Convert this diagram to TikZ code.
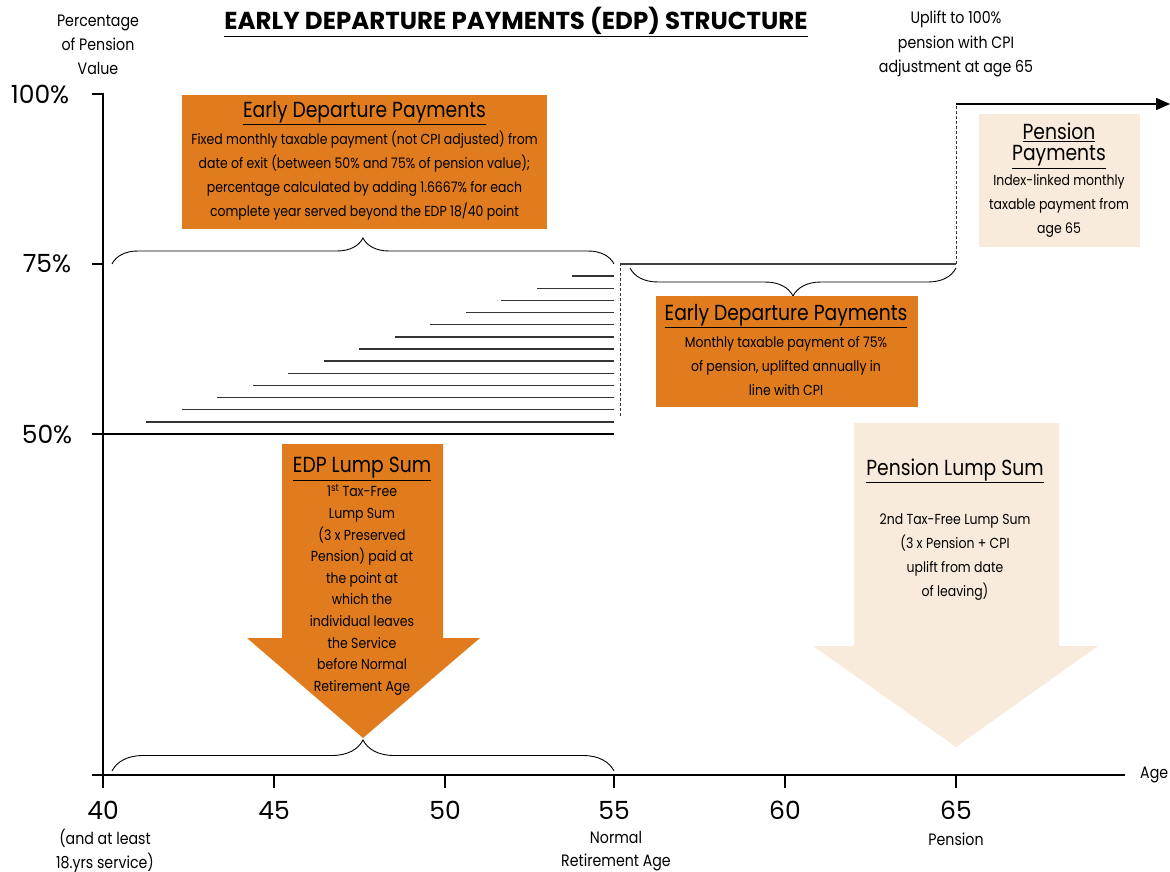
\documentclass[tikz,border=0pt]{standalone}
\usepackage{fontspec}
\setmainfont{Poppins}[FakeStretch=0.86]
\newfontfamily\widefont{Poppins}
\usetikzlibrary{arrows.meta,decorations.pathreplacing,positioning}

\definecolor{edporange}{HTML}{E07C1E}
\definecolor{pensionbeige}{HTML}{F8EBDB}

\begin{document}
\begin{tikzpicture}[%
        x = 1pt,
        y = -1pt,
        axis/.style = {%
            draw = black,
            line width = 1.2pt
        },
        stairline/.style = {%
            draw = black!80,
            line width = 1.4pt
        },
        dropline/.style = {%
            draw = black!80,
            line width = 1pt,
            densely dashed
        },
        curly/.style = {%
            draw = black,
            line width = 0.9pt,
            decorate,
            decoration = {brace, amplitude = #1}
        },
        orangebox/.style = {rectangle, fill = edporange, inner sep = 0pt},
        beigebox/.style = {rectangle, fill = pensionbeige, inner sep = 0pt},
        boxtitle/.style = {font = \fontsize{21.8}{24}\selectfont, inner sep = 0pt},
        boxtext/.style = {%
            font = \fontsize{14.5}{24.2}\selectfont,
            align = center,
            inner sep = 0pt
        },
        ticklabel/.style = {font = \widefont\fontsize{25}{28}\selectfont, inner sep = 0pt},
        sublabel/.style = {%
            font = \fontsize{16.5}{23.5}\selectfont,
            align = center,
            inner sep = 0pt
        }
    ]

        \useasboundingbox (0, 0) rectangle (1170, 872);

        % Set points of the two axes.
        \coordinate (o) at (103, 775);
        \coordinate (ytop) at (103, 94);
        \coordinate (ybot) at (103, 788);
        \coordinate (xend) at (1125, 775);

        % Set points of the step up to full pension.
        \coordinate (s1) at (620, 264);
        \coordinate (s2) at (956, 264);
        \coordinate (s3) at (956, 104);
        \coordinate (s4) at (1170, 104);

        % Title and axis captions.
        \node[font = \widefont\bfseries\fontsize{24.5}{28}\selectfont, inner sep = 0pt]
            at (516, 22) (title) {\underline{EARLY DEPARTURE PAYMENTS (EDP) STRUCTURE}};
        \node[sublabel, font = \fontsize{16.5}{24}\selectfont] at (98, 45) (ycap)
            {Percentage\\of Pension\\Value};
        \node[sublabel, font = \fontsize{16.5}{24.5}\selectfont] at (956, 44) (uplift)
            {Uplift to 100\%\\pension with CPI\\adjustment at age 65};
        \node[sublabel, anchor = west] at (1140, 775) (xcap) {Age};

        % Percentage labels on the vertical axis.
        \node[ticklabel] at (40, 94) (p100) {100\%};
        \node[ticklabel] at (47, 264) (p75) {75\%};
        \node[ticklabel] at (47, 434) (p50) {50\%};

        % Age labels on the horizontal axis.
        \node[ticklabel] at (103, 810) (a40) {40};
        \node[ticklabel] at (274, 810) (a45) {45};
        \node[ticklabel] at (445, 810) (a50) {50};
        \node[ticklabel] at (614, 810) (a55) {55};
        \node[ticklabel] at (785, 810) (a60) {60};
        \node[ticklabel] at (956, 810) (a65) {65};
        \node[sublabel] at (105, 851) (n40) {(and at least\\18.yrs service)};
        \node[sublabel] at (616, 851) (n55) {Normal\\Retirement Age};
        \node[sublabel] at (956, 839) (n65) {Pension};

        % Draw the axes and their ticks.
        \draw[axis] (92, 94) -- (ytop) -- (ybot);
        \draw[axis] (92, 775) -- (xend);
        \draw[axis] (92, 264) -- (103, 264);
        \draw[axis] (274, 775) -- (274, 788);
        \draw[axis] (445, 775) -- (445, 788);
        \draw[axis] (614, 775) -- (614, 788);
        \draw[axis] (785, 775) -- (785, 788);
        \draw[axis] (956, 775) -- (956, 788);

        % Draw the staircase of early departure levels.
        \draw[stairline] (572, 276.1) -- (614, 276.1);
        \draw[stairline] (537, 288.3) -- (614, 288.3);
        \draw[stairline] (501, 300.4) -- (614, 300.4);
        \draw[stairline] (466, 312.6) -- (614, 312.6);
        \draw[stairline] (430, 324.7) -- (614, 324.7);
        \draw[stairline] (395, 336.9) -- (614, 336.9);
        \draw[stairline] (359, 349.0) -- (614, 349.0);
        \draw[stairline] (324, 361.1) -- (614, 361.1);
        \draw[stairline] (288, 373.3) -- (614, 373.3);
        \draw[stairline] (253, 385.4) -- (614, 385.4);
        \draw[stairline] (217, 397.6) -- (614, 397.6);
        \draw[stairline] (182, 409.7) -- (614, 409.7);
        \draw[stairline] (146, 421.9) -- (614, 421.9);
        \draw[stairline, draw = black] (92, 434) -- (614, 434);

        % Draw the step up to full pension.
        \draw[dropline] (620, 416) -- (s1);
        \draw[stairline, draw = black!75] (s1) -- (s2);
        \draw[dropline] (s2) -- (s3);
        \draw[stairline, draw = black, -{Triangle[length = 14pt, width = 12pt]}] (s3) -- (s4);

        % Draw the braces.
        \draw[curly = 26pt] (112, 264) -- (614, 264);
        \draw[curly = 28pt] (956, 268) -- (630, 268);
        \draw[curly = 31pt] (112, 771) -- (614, 771);

        % Boxes for the monthly payments.
        \node[orangebox, minimum width = 365pt, minimum height = 134pt] at (364.5, 162) (edpbox) {};
        \node[boxtitle] at (364.5, 113) (edptitle) {\underline{Early Departure Payments}};
        \node[boxtext] at (364.5, 175.5) (edptext) {Fixed monthly taxable payment (not CPI adjusted) from\\
            date of exit (between 50\% and 75\% of pension value);\\
            percentage calculated by adding 1.6667\% for each\\
            complete year served beyond the EDP 18/40 point};

        \node[orangebox, minimum width = 262pt, minimum height = 111pt] at (787, 351.5) (latebox) {};
        \node[boxtitle] at (786, 316) (latetitle) {\underline{Early Departure Payments}};
        \node[boxtext] at (786, 366) (latetext) {Monthly taxable payment of 75\%\\
            of pension, uplifted annually in\\line with CPI};

        \node[beigebox, minimum width = 161pt, minimum height = 133pt] at (1059.5, 180.5) (penbox) {};
        \node[boxtitle] at (1059, 132) (pentitle) {\underline{Pension}};
        \node[boxtitle] at (1059, 157) (pentitleb) {\underline{Payments}};
        \node[boxtext] at (1059, 206) (pentext) {Index-linked monthly\\taxable payment from\\age 65};

        % Arrows for the lump sums.
        \fill[edporange] (282, 444) -- (443, 444) -- (443, 638) -- (480, 638)
            -- (363, 738) -- (247, 638) -- (282, 638) -- cycle;
        \node[boxtitle] at (362, 469) (edplump) {\underline{EDP Lump Sum}};
        \node[boxtext, font = \fontsize{14.5}{21.6}\selectfont] at (362, 590) (edplumptext)
            {1\textsuperscript{st} Tax-Free\\Lump Sum\\(3 x Preserved\\Pension) paid at\\the point at\\
            which the\\individual leaves\\the Service\\before Normal\\Retirement Age};

        \fill[pensionbeige] (854, 423) -- (1059, 423) -- (1059, 646) -- (1098, 646)
            -- (956, 747) -- (813, 646) -- (854, 646) -- cycle;
        \node[boxtitle] at (955, 471) (penlump) {\underline{Pension Lump Sum}};
        \node[boxtext] at (955, 557) (penlumptext)
            {2nd Tax-Free Lump Sum\\(3 x Pension + CPI\\uplift from date\\of leaving)};
    \end{tikzpicture}
\end{document}
